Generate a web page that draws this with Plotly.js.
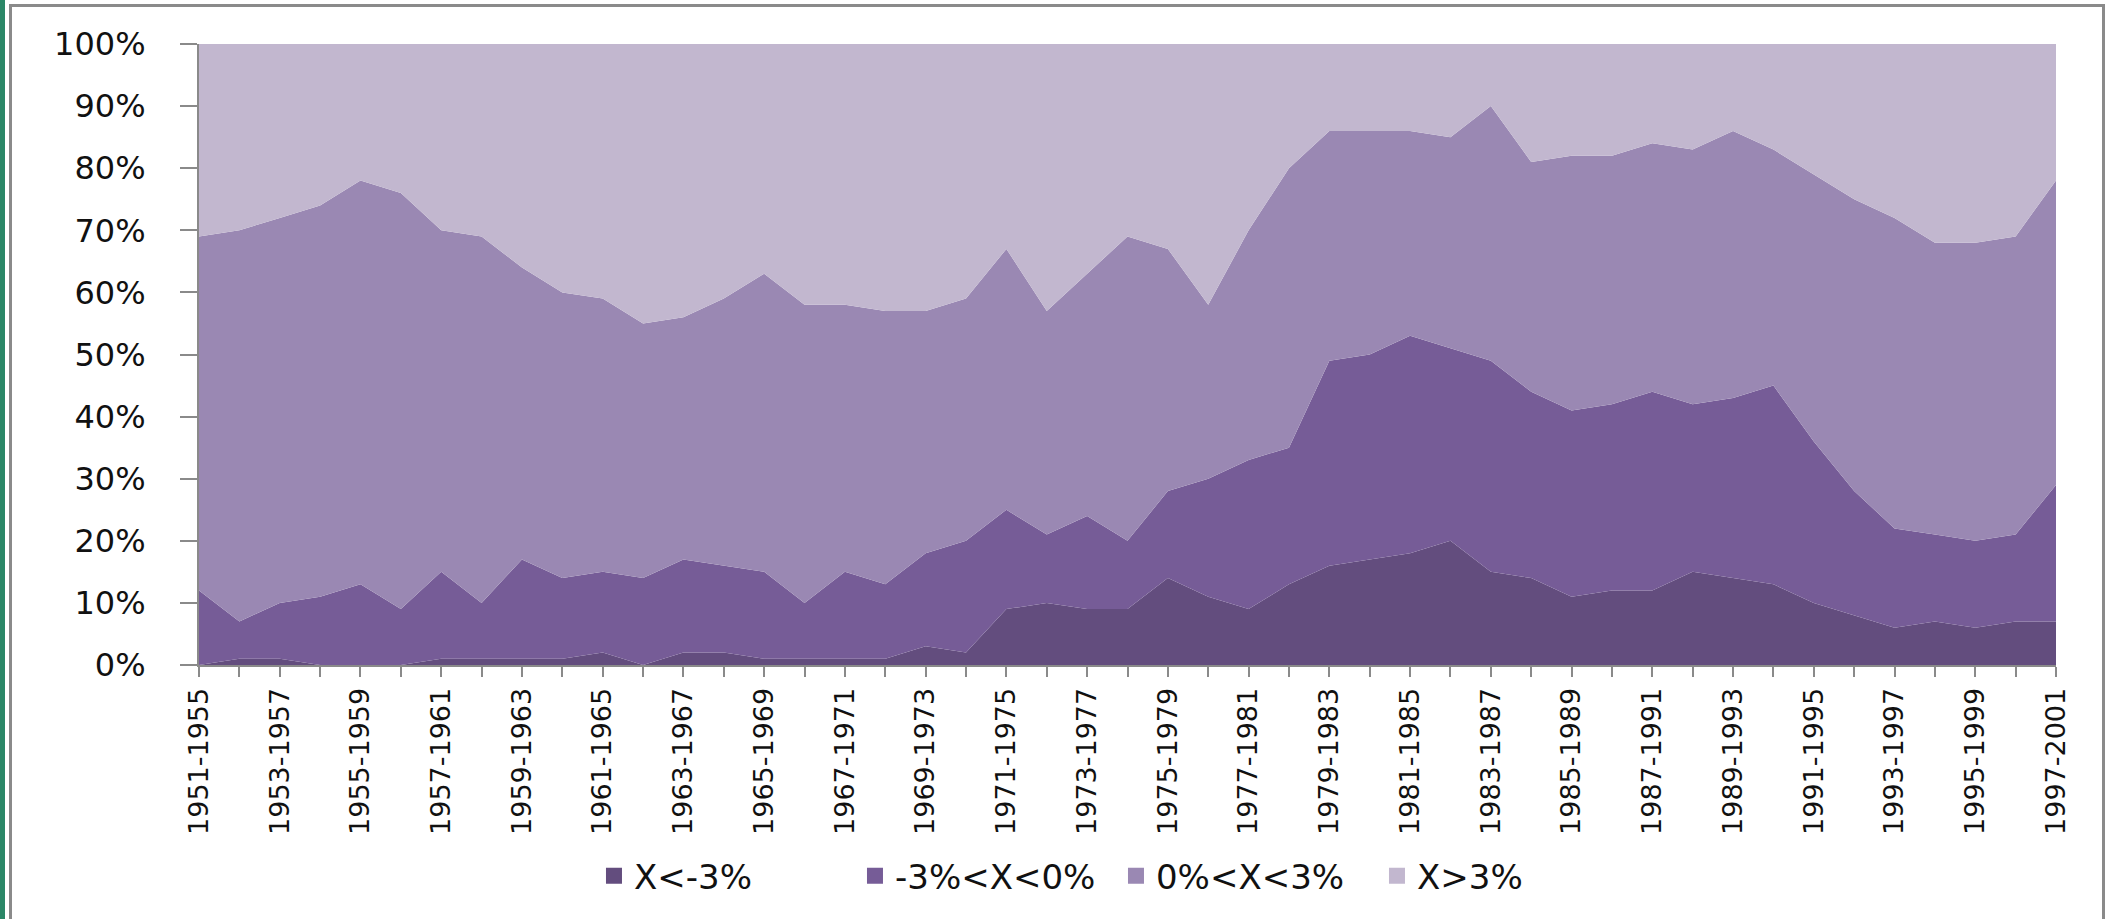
<!DOCTYPE html>
<html>
<head>
<meta charset="utf-8">
<script src="https://cdn.plot.ly/plotly-3.0.1.min.js"></script>
<style>
  html, body { margin: 0; padding: 0; background: #ffffff; width: 2120px; height: 919px; overflow: hidden; }
  #stripe { position: absolute; left: 0; top: 0; width: 5px; height: 919px; background: #2b8767; }
  #frame { position: absolute; left: 9px; top: 4px; width: 2096px; height: 930px; border: 3px solid #8a8a8a; box-sizing: border-box; }
  #chart { position: absolute; left: 0; top: 0; width: 2120px; height: 919px; }
</style>
</head>
<body>
<div id="stripe"></div>
<div id="frame"></div>
<div id="chart"></div>
<script>
const categories = [
  "1951-1955","1952-1956","1953-1957","1954-1958","1955-1959","1956-1960","1957-1961","1958-1962",
  "1959-1963","1960-1964","1961-1965","1962-1966","1963-1967","1964-1968","1965-1969","1966-1970",
  "1967-1971","1968-1972","1969-1973","1970-1974","1971-1975","1972-1976","1973-1977","1974-1978",
  "1975-1979","1976-1980","1977-1981","1978-1982","1979-1983","1980-1984","1981-1985","1982-1986",
  "1983-1987","1984-1988","1985-1989","1986-1990","1987-1991","1988-1992","1989-1993","1990-1994",
  "1991-1995","1992-1996","1993-1997","1994-1998","1995-1999","1996-2000","1997-2001"
];
const seriesNames = ["X<-3%", "-3%<X<0%", "0%<X<3%", "X>3%"];
const below3 = [0,1,1,0,0,0,1,1,1,1,2,0,2,2,1,1,1,1,3,2,9,10,9,9,14,11,9,13,16,17,18,20,15,14,11,12,12,15,14,13,10,8,6,7,6,7,7];
const minus3to0 = [12,6,9,11,13,9,14,9,16,13,13,14,15,14,14,9,14,12,15,18,16,11,15,11,14,19,24,22,33,33,35,31,34,30,30,30,32,27,29,32,26,20,16,14,14,14,22];
const zeroTo3 = [57,63,62,63,65,67,55,59,47,46,44,41,39,43,48,48,43,44,39,39,42,36,39,49,39,28,37,45,37,36,33,34,41,37,41,40,40,41,43,38,43,47,50,47,48,48,49];
const above3 = [31,30,28,26,22,24,30,31,36,40,41,45,44,41,37,42,42,43,43,41,33,43,37,31,33,42,30,20,14,14,14,15,10,19,18,18,16,17,14,17,21,25,28,32,32,31,22];
const yTickVals = [0,10,20,30,40,50,60,70,80,90,100];

const colors = ["#634d7e", "#765c97", "#9a88b3", "#c2b7cf"];
const values = [below3, minus3to0, zeroTo3, above3];

const areaTraces = values.map((v, i) => ({
  type: "scatter",
  mode: "lines",
  x: categories,
  y: v,
  name: seriesNames[i],
  stackgroup: "one",
  line: { width: 0, color: colors[i] },
  fillcolor: colors[i],
  showlegend: false,
  hoverinfo: "x+y+name"
}));

// legend-only entries with square swatches
const legendTraces = seriesNames.map((n, i) => ({
  type: "scatter",
  mode: "markers",
  x: [null],
  y: [null],
  name: n,
  marker: { symbol: "square", size: 22, color: colors[i] },
  showlegend: true
}));

const layout = {
  width: 2120,
  height: 919,
  paper_bgcolor: "rgba(0,0,0,0)",
  plot_bgcolor: "#ffffff",
  margin: { l: 199, r: 64, t: 44, b: 254, autoexpand: false },
  font: { family: "DejaVu Sans, Verdana, sans-serif", color: "#111111" },
  showlegend: true,
  legend: {
    orientation: "h",
    x: 0.2127,
    xanchor: "left",
    y: -0.34,
    yanchor: "middle",
    font: { size: 34, family: "DejaVu Sans, sans-serif", color: "#111111" },
    itemwidth: 30,
    entrywidth: 216,
    traceorder: "normal",
    bgcolor: "rgba(0,0,0,0)"
  },
  xaxis: {
    type: "category",
    range: [0, 46],
    automargin: false,
    tickmode: "array",
    tickvals: categories,
    ticktext: categories.map((c, i) => (i % 2 === 0 ? c : "")),
    tickangle: -90,
    ticks: "outside",
    ticklen: 10,
    tickcolor: "#8a8a8a",
    tickwidth: 2,
    showline: true,
    linecolor: "#8a8a8a",
    linewidth: 2,
    showgrid: false,
    zeroline: false,
    tickfont: { size: 27, family: "DejaVu Sans, sans-serif", color: "#111111" }
  },
  yaxis: {
    range: [0, 100],
    automargin: false,
    tickmode: "array",
    tickvals: yTickVals,
    ticktext: yTickVals.map(v => v + "%"),
    ticks: "outside",
    ticklen: 17,
    tickcolor: "#8a8a8a",
    tickwidth: 2,
    ticklabelstandoff: 28,
    showline: true,
    linecolor: "#8a8a8a",
    linewidth: 2,
    showgrid: false,
    zeroline: false,
    tickfont: { size: 32, family: "DejaVu Sans, sans-serif", color: "#111111" }
  }
};

Plotly.newPlot("chart", areaTraces.concat(legendTraces), layout, { displayModeBar: false, staticPlot: true });
</script>
</body>
</html>
